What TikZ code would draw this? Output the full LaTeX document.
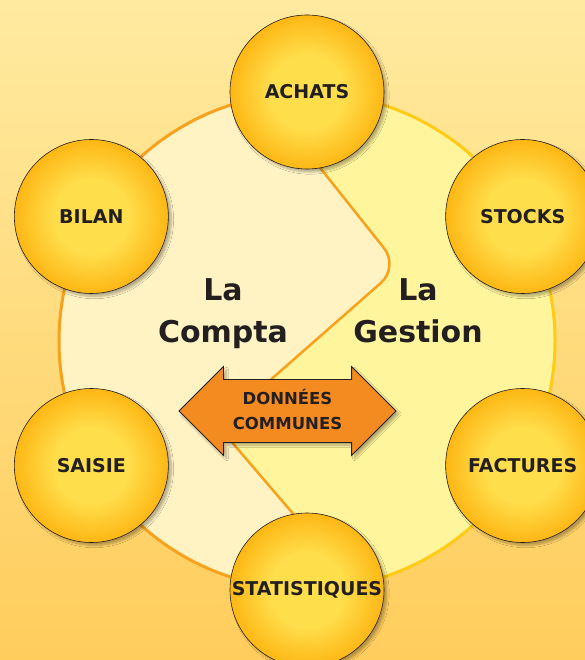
\documentclass[tikz,border=0pt]{standalone}
\usepackage{fontspec}
\setmainfont{DejaVu Sans}
\usetikzlibrary{positioning,shapes.arrows,shadows.blur}
\definecolor{fondhaut}{HTML}{FFEAA0}
\definecolor{fondbas}{HTML}{FFCD5C}
\definecolor{compta}{HTML}{FFF3C4}
\definecolor{gestion}{HTML}{FFF59C}
\definecolor{traitorange}{HTML}{F7A11C}
\definecolor{traitjaune}{HTML}{FFCB14}
\definecolor{bulleclair}{HTML}{FFDE4C}
\definecolor{bullefonce}{HTML}{FDB714}
\definecolor{orangefleche}{HTML}{F48B20}
\definecolor{encre}{HTML}{231F20}
\pgfdeclareradialshading{soleil}{\pgfpoint{0bp}{0bp}}{color(0bp)=(bulleclair); color(12bp)=(bulleclair); color(25bp)=(bullefonce); color(50bp)=(bullefonce)}
\tikzset{
	>=stealth
}

\begin{document}
\begin{tikzpicture}[
	x = 1pt, y = 1pt,
	every node/.style = {
		font = \bfseries,
		text = encre
	},
	bulle/.style = {
		circle,
		draw = encre,
		line width = .6pt,
		shading = soleil,
		minimum size = 154pt,
		inner sep = 0pt,
		font = \bfseries\fontsize{19}{21}\selectfont,
		blur shadow = {shadow xshift=3pt, shadow yshift=-3pt, shadow opacity=30, shadow blur steps=8}
	},
	titre/.style = {
		align = center,
		font = \bfseries\fontsize{30}{42}\selectfont
	},
	fleche/.style = {
		double arrow,
		double arrow head extend = 13pt,
		minimum height = 217pt,
		minimum width = 88pt,
		inner xsep = 0pt,
		inner ysep = 31pt,
		fill = orangefleche,
		draw = encre,
		line width = .8pt,
		blur shadow = {shadow xshift=3pt, shadow yshift=-3pt, shadow opacity=30, shadow blur steps=8}
	},
	separation/.style = {
		draw = traitorange,
		line width = 2.5pt,
		rounded corners = 24pt
	}
	]
	
	\useasboundingbox (-307,-319) rectangle (278,341);
	\fill[top color=fondhaut, bottom color=fondbas] (-307,-319) rectangle (278,341);
	
	% les deux moities du grand cercle
	\fill[compta] (0,0) circle (248);
	\begin{scope}
		\clip (0,0) circle (248);
		\fill[gestion, rounded corners=24pt] (-13,206) -- (92,74) -- (-89,-85) -- (6,-196) -- (6,-300) -- (300,-300) -- (300,300) -- (-13,300) -- cycle;
	\end{scope}
	\draw[traitorange, line width=3pt] (0,248) arc[start angle=90, end angle=270, radius=248];
	\draw[traitjaune, line width=3pt] (0,-248) arc[start angle=-90, end angle=90, radius=248];
	\draw[separation] (-13,206) -- (92,74) -- (-89,-85) -- (6,-196);
	
	\node (achats) [bulle] at (90:249) {ACHATS};
	\node (stocks) [bulle] at (30:249) {STOCKS};
	\node (factures) [bulle] at (-30:249) {FACTURES};
	\node (statistiques) [bulle] at (-90:249) {STATISTIQUES};
	\node (saisie) [bulle] at (210:249) {SAISIE};
	\node (bilan) [bulle] at (150:249) {BILAN};
	
	\node (titre_compta) [titre] at (-84,27) {La\\Compta};
	\node (titre_gestion) [titre] at (111,30) {La\\Gestion};
	
	\node (fleche_donnees) [fleche] at (-19.5,-70) {};
	\node (texte_donnees) [align=center, font=\bfseries\fontsize{16.5}{25}\selectfont] at ([yshift=2pt]fleche_donnees.center) {DONNÉES\\COMMUNES};
	
\end{tikzpicture}
\end{document}
